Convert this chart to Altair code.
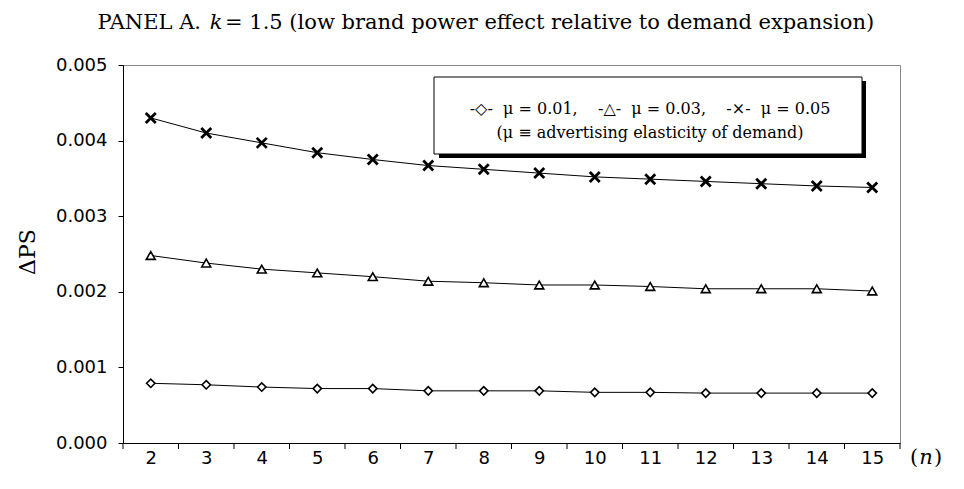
import altair as alt
import pandas as pd

n_vals = [2, 3, 4, 5, 6, 7, 8, 9, 10, 11, 12, 13, 14, 15]
mu_001 = [0.00079, 0.00077, 0.00074, 0.00072, 0.00072, 0.00069, 0.00069,
          0.00069, 0.00067, 0.00067, 0.00066, 0.00066, 0.00066, 0.00066]
mu_003 = [0.00248, 0.00238, 0.00230, 0.00225, 0.00220, 0.00214, 0.00212,
          0.00209, 0.00209, 0.00207, 0.00204, 0.00204, 0.00204, 0.00201]
mu_005 = [0.00430, 0.00410, 0.00397, 0.00384, 0.00375, 0.00367, 0.00362,
          0.00357, 0.00352, 0.00349, 0.00346, 0.00343, 0.00340, 0.00338]
x_tick_bounds = [1.5, 2.5, 3.5, 4.5, 5.5, 6.5, 7.5, 8.5, 9.5, 10.5, 11.5,
                 12.5, 13.5, 14.5, 15.5]
y_ticks = [0.0, 0.001, 0.002, 0.003, 0.004, 0.005]

W, H = 777, 378
SERIF = "DejaVu Serif"
SANS = "DejaVu Sans"
NB = "\u00a0"

xscale = alt.Scale(domain=[1.5, 15.5], nice=False, zero=False)
yscale = alt.Scale(domain=[0, 0.005], nice=False)
xaxis = alt.Axis(values=n_vals, ticks=False, tickSize=0, grid=False,
                 labelFont=SANS, labelFontSize=18, labelColor="black",
                 labelPadding=6, domainColor="black", domainWidth=1,
                 labelFlush=False, title=None)
yaxis = alt.Axis(values=y_ticks, format=".3f", grid=False,
                 tickSize=5, tickColor="black", labelFont=SANS,
                 labelFontSize=18, labelColor="black", labelPadding=11,
                 domainColor="black", domainWidth=1, title=None)


def X(field):
    return alt.X(field, scale=xscale, axis=xaxis, title=None)


def Y(field):
    return alt.Y(field, scale=yscale, axis=yaxis, title=None)


def series_layer(vals, shape, sw, size):
    df = pd.DataFrame({"n": n_vals, "v": vals})
    base = alt.Chart(df).encode(x=X("n:Q"), y=Y("v:Q"))
    line = base.mark_line(color="black", strokeWidth=1)
    pts = base.mark_point(shape=shape, filled=True, fill="white", stroke="black",
                          strokeWidth=sw, size=size, opacity=1)
    return line + pts


def txt(s, x, y, size=16, font=SERIF, style="normal", align="center", angle=0):
    kw = dict(font=font, fontSize=size, fontStyle=style, align=align,
              baseline="middle", color="black")
    if angle:
        kw["angle"] = angle
    return alt.Chart(pd.DataFrame({"t": [s]})).mark_text(**kw).encode(
        x=alt.value(x), y=alt.value(y), text="t:N")


xt = alt.Chart(pd.DataFrame({"b": x_tick_bounds, "v": [0.0] * 15})).mark_rule(
    color="black", strokeWidth=1).encode(
    x=X("b:Q"), y=alt.value(H), y2=alt.value(H + 6))

X_SHAPE = "M-1,-1L1,1M-1,1L1,-1"

shadow = alt.Chart(pd.DataFrame({"a": [0]})).mark_rect(fill="black").encode(
    x=alt.value(316), x2=alt.value(743), y=alt.value(16), y2=alt.value(93))
box = alt.Chart(pd.DataFrame({"a": [0]})).mark_rect(
    fill="white", stroke="black", strokeWidth=1).encode(
    x=alt.value(311), x2=alt.value(739), y=alt.value(12), y2=alt.value(89))

sp2 = NB * 2
sp4 = NB * 4
line1 = (f"-\u25c7-{sp2}\u03bc = 0.01,{sp4}-\u25b3-{sp2}\u03bc = 0.03,"
         f"{sp4}-\u00d7-{sp2}\u03bc = 0.05")
line2 = "(\u03bc \u2261 advertising elasticity of demand)"

chart = alt.layer(
    xt,
    series_layer(mu_001, "diamond", 1.6, 70),
    series_layer(mu_003, "triangle-up", 1.6, 80),
    series_layer(mu_005, X_SHAPE, 2.8, 100),
    shadow,
    box,
    txt(line1, 527, 44, size=16),
    txt(line2, 527, 68, size=16),
    txt("PANEL A.", 78, -42, size=21, align="right"),
    txt("k", 93, -42, size=21, style="italic"),
    txt("= 1.5 (low brand power effect relative to demand expansion)", 102, -42,
        size=21, align="left"),
    txt("\u0394PS", -95, 187, size=22, angle=270),
    txt("(", 791, 393, size=21),
    txt("n", 803, 393, size=21, style="italic"),
    txt(")", 815, 393, size=21),
).properties(
    width=W, height=H,
    autosize=alt.AutoSizeParams(type="none"),
    padding={"left": 115, "top": 57, "right": 56, "bottom": 38},
).configure_view(stroke="#888888", strokeWidth=1)

chart.save("out.html", embed_options={"renderer": "svg", "actions": False})
